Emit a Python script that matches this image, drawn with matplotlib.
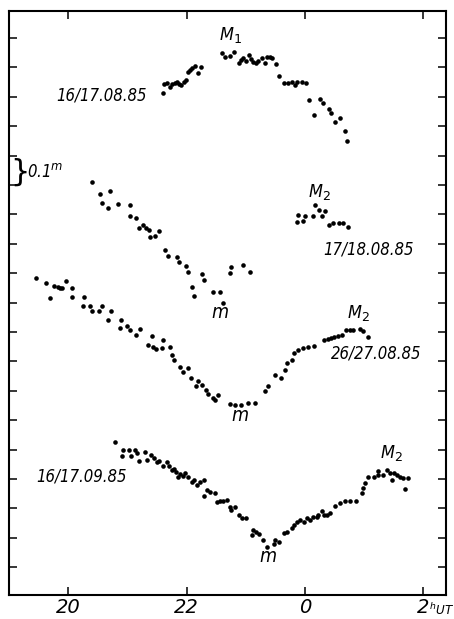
import matplotlib
matplotlib.use('Agg')
import matplotlib.pyplot as plt
from matplotlib.transforms import blended_transform_factory

# ---------------- data (UT hours, 24+ = after midnight; relative magnitude) -------------
t_0817 = [21.61, 21.62, 21.67, 21.72, 21.75, 21.80, 21.84, 21.88, 21.91, 21.95, 21.99, 22.02,
          22.06, 22.10, 22.15, 22.20, 22.25, 22.60, 22.65, 22.74, 22.81, 22.88, 22.92, 22.96,
          23.00, 23.06, 23.09, 23.13, 23.17, 23.20, 23.27, 23.32, 23.36, 23.41, 23.45, 23.52,
          23.56, 23.64, 23.71, 23.79, 23.83, 23.86, 23.95, 24.02, 24.07, 24.16, 24.26, 24.31,
          24.40, 24.45, 24.51, 24.60, 24.68, 24.72]
m_0817 = [0.188, 0.158, 0.154, 0.166, 0.158, 0.152, 0.149, 0.157, 0.161, 0.149, 0.143, 0.117,
          0.109, 0.102, 0.095, 0.120, 0.100, 0.050, 0.064, 0.061, 0.048, 0.084, 0.075, 0.069,
          0.077, 0.058, 0.073, 0.081, 0.086, 0.077, 0.069, 0.084, 0.063, 0.066, 0.069, 0.088,
          0.128, 0.152, 0.152, 0.149, 0.160, 0.149, 0.149, 0.152, 0.211, 0.262, 0.209, 0.222,
          0.243, 0.256, 0.285, 0.273, 0.315, 0.349]

t_0818 = [20.41, 20.54, 20.58, 20.68, 20.71, 20.84, 21.04, 21.05, 21.14, 21.19, 21.27, 21.31,
          21.36, 21.39, 21.47, 21.54, 21.64, 21.68, 21.84, 21.88, 21.99, 22.02, 22.10, 22.12,
          22.26, 22.29, 22.45, 22.57, 22.62, 22.74, 22.76, 22.96, 23.07,
          23.86, 23.89, 23.97, 24.00, 24.13, 24.17, 24.24, 24.29, 24.34, 24.40, 24.48, 24.57,
          24.64, 24.73]
m_0818 = [0.491, 0.532, 0.562, 0.579, 0.520, 0.566, 0.568, 0.604, 0.611, 0.647, 0.636, 0.645,
          0.653, 0.676, 0.672, 0.656, 0.721, 0.740, 0.744, 0.763, 0.774, 0.795, 0.846, 0.876,
          0.804, 0.823, 0.865, 0.865, 0.903, 0.798, 0.778, 0.772, 0.795,
          0.625, 0.602, 0.621, 0.605, 0.605, 0.568, 0.585, 0.605, 0.587, 0.636, 0.628, 0.628,
          0.628, 0.642]

t_0827 = [19.46, 19.63, 19.69, 19.76, 19.82, 19.86, 19.90, 19.96, 20.06, 20.07, 20.27, 20.25,
          20.37, 20.41, 20.52, 20.57, 20.68, 20.72, 20.90, 20.87, 20.99, 21.04, 21.15, 21.21,
          21.35, 21.41, 21.44, 21.49, 21.58, 21.60, 21.72, 21.75, 21.79, 21.89, 21.94, 22.03,
          22.08, 22.16, 22.20, 22.26, 22.33, 22.36, 22.44, 22.48, 22.53, 22.73, 22.82, 22.92,
          23.04, 23.15, 23.32, 23.38, 23.49, 23.59, 23.66, 23.69, 23.79, 23.82, 23.88, 23.97,
          24.05, 24.16, 24.32, 24.39, 24.45, 24.50, 24.56, 24.62, 24.70, 24.76, 24.81, 24.93,
          24.98, 25.06]
m_0827 = [0.816, 0.833, 0.884, 0.844, 0.848, 0.850, 0.852, 0.825, 0.852, 0.882, 0.882, 0.912,
          0.912, 0.929, 0.929, 0.912, 0.958, 0.929, 0.958, 0.988, 0.980, 0.995, 1.009, 0.989,
          1.046, 1.014, 1.052, 1.058, 1.054, 1.029, 1.052, 1.077, 1.094, 1.120, 1.136, 1.124,
          1.156, 1.185, 1.167, 1.181, 1.199, 1.211, 1.224, 1.230, 1.213, 1.245, 1.250, 1.250,
          1.241, 1.241, 1.202, 1.184, 1.147, 1.156, 1.131, 1.105, 1.097, 1.071, 1.063, 1.054,
          1.051, 1.048, 1.026, 1.023, 1.022, 1.018, 1.014, 1.009, 0.995, 0.995, 0.993, 0.989,
          0.997, 1.017]

t_0917 = [20.79, 20.91, 20.92, 21.02, 21.06, 21.13, 21.16, 21.20, 21.30, 21.33, 21.40, 21.45,
          21.50, 21.54, 21.60, 21.67, 21.71, 21.75, 21.79, 21.83, 21.86, 21.89, 21.94, 21.98,
          22.02, 22.09, 22.12, 22.17, 22.23, 22.29, 22.30, 22.34, 22.40, 22.48, 22.51, 22.57,
          22.62, 22.68, 22.74, 22.76, 22.82, 22.88, 22.93, 23.01, 23.10, 23.13, 23.18, 23.22,
          23.30, 23.36, 23.47, 23.50, 23.57, 23.65, 23.69, 23.78, 23.82, 23.86, 23.92, 23.99,
          24.03, 24.09, 24.13, 24.20, 24.23, 24.29, 24.32, 24.37, 24.42, 24.51, 24.59, 24.68,
          24.76, 24.86, 24.96, 24.99, 25.02, 25.07, 25.16, 25.23, 25.24, 25.32, 25.38, 25.44,
          25.47, 25.51, 25.55, 25.61, 25.66, 25.69, 25.75]
m_0917 = [1.373, 1.422, 1.401, 1.401, 1.422, 1.401, 1.413, 1.438, 1.410, 1.435, 1.418, 1.430,
          1.441, 1.438, 1.456, 1.441, 1.456, 1.469, 1.467, 1.478, 1.492, 1.483, 1.490, 1.481,
          1.492, 1.509, 1.503, 1.520, 1.512, 1.503, 1.558, 1.537, 1.543, 1.547, 1.577, 1.574,
          1.574, 1.571, 1.596, 1.605, 1.594, 1.622, 1.634, 1.634, 1.690, 1.673, 1.679, 1.687,
          1.707, 1.732, 1.721, 1.707, 1.713, 1.683, 1.679, 1.668, 1.656, 1.645, 1.639, 1.645,
          1.634, 1.639, 1.630, 1.628, 1.622, 1.608, 1.622, 1.622, 1.615, 1.592, 1.581, 1.574,
          1.574, 1.574, 1.547, 1.532, 1.515, 1.494, 1.492, 1.486, 1.472, 1.486, 1.469, 1.481,
          1.503, 1.481, 1.486, 1.494, 1.498, 1.535, 1.498]

x_ticks = [20, 22, 24, 26]
x_tick_labels = ['20', '22', '0', '2']
y_ticks = [round(0.1 * k, 1) for k in range(19)]

# ---------------- figure -------------
plt.rcParams['mathtext.fontset'] = 'dejavusans'

fig = plt.figure(figsize=(4.54, 6.19), dpi=100)
ax = fig.add_axes([9 / 454, 1 - 595 / 619, 437 / 454, 584 / 619])

for t, m in [(t_0817, m_0817), (t_0818, m_0818), (t_0827, m_0827), (t_0917, m_0917)]:
    ax.plot(t, m, 'o', color='black', ms=3.3, mew=0, linestyle='none')

ax.set_xlim(19.0, 26.385)
ax.set_ylim(1.895, -0.092)
ax.set_xticks(x_ticks)
ax.set_xticklabels(x_tick_labels, fontsize=14, style='italic', family='DejaVu Sans')
ax.set_yticks(y_ticks)
ax.set_yticklabels([])
ax.tick_params(axis='both', direction='in', length=6, width=1.1, top=True, right=True,
               color='black')
ax.tick_params(axis='x', pad=2)
for s in ax.spines.values():
    s.set_linewidth(1.5)

tr = blended_transform_factory(ax.transData, ax.transAxes)
ax.text(26.09, -0.012, r'$^{h}$UT', transform=tr, ha='left', va='top', fontsize=9.5,
        style='italic', family='DejaVu Sans', stretch='condensed')

kw = dict(style='italic', family='DejaVu Sans', stretch='condensed', color='black')
ax.text(20.56, 0.194, '16/17.08.85', ha='center', va='center', fontsize=12, **kw)
ax.text(25.08, 0.719, '17/18.08.85', ha='center', va='center', fontsize=12, **kw)
ax.text(25.20, 1.073, '26/27.08.85', ha='center', va='center', fontsize=12, **kw)
ax.text(20.22, 1.492, '16/17.09.85', ha='center', va='center', fontsize=12, **kw)

ax.text(22.74, -0.012, r'M$_1$', ha='center', va='center', fontsize=13, **kw)
ax.text(24.24, 0.524, r'M$_2$', ha='center', va='center', fontsize=13, **kw)
ax.text(24.90, 0.936, r'M$_2$', ha='center', va='center', fontsize=13, **kw)
ax.text(25.47, 1.413, r'M$_2$', ha='center', va='center', fontsize=13, **kw)

ax.text(22.57, 0.935, 'm', ha='center', va='center', fontsize=14, **kw)
ax.text(22.91, 1.285, 'm', ha='center', va='center', fontsize=14, **kw)
ax.text(23.38, 1.764, 'm', ha='center', va='center', fontsize=14, **kw)

ax.text(19.19, 0.455, '}', ha='center', va='center', fontsize=22, family='DejaVu Sans',
        color='black')
ax.text(19.30, 0.455, r'0.1$^m$', ha='left', va='center', fontsize=12, **kw)

fig.savefig('out.png', dpi=100)
